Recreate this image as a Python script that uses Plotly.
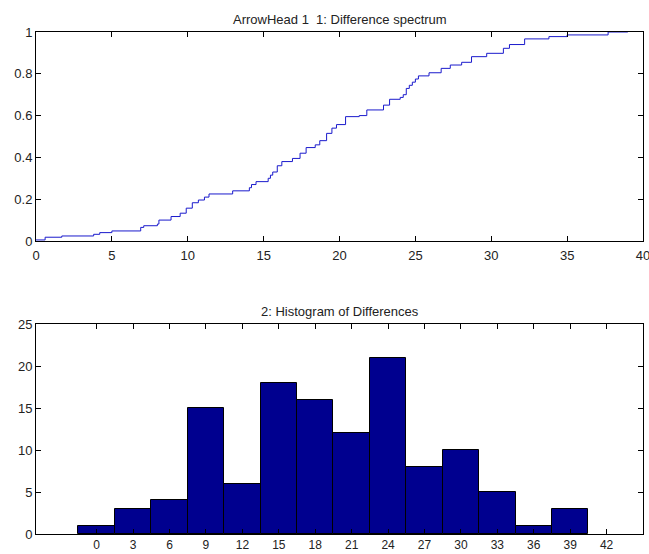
import plotly.graph_objects as go
from plotly.subplots import make_subplots

# Top panel: cumulative difference spectrum (step points)
cdf_x = [0, 0.6, 1.7, 3.8, 4.2, 5.0, 6.9, 7.1, 8.0, 8.1, 8.9, 9.5, 9.9, 10.3, 10.7,
         11.1, 11.4, 12.96, 14.06, 14.2, 14.5, 15.3, 15.45, 15.6, 15.9, 16.2, 16.9,
         17.4, 17.8, 18.4, 18.7, 19.15, 19.5, 19.8, 20.4, 21.3, 21.8, 22.9, 23.3,
         24.0, 24.2, 24.4, 24.6, 24.8, 25.0, 25.2, 25.9, 26.7, 27.3, 28.05, 28.7,
         29.7, 30.8, 31.2, 32.2, 33.8, 35.0, 37.7, 39.0]
cdf_y = [0.005, 0.018, 0.024, 0.032, 0.040, 0.048, 0.065, 0.073, 0.081, 0.100, 0.117,
         0.133, 0.157, 0.183, 0.196, 0.210, 0.225, 0.240, 0.255, 0.270, 0.284, 0.300,
         0.315, 0.330, 0.360, 0.380, 0.395, 0.420, 0.447, 0.460, 0.480, 0.515, 0.540,
         0.557, 0.595, 0.600, 0.627, 0.650, 0.678, 0.687, 0.700, 0.730, 0.745, 0.760,
         0.775, 0.790, 0.805, 0.826, 0.842, 0.855, 0.882, 0.898, 0.922, 0.940, 0.967,
         0.978, 0.986, 1.000, 1.000]

# Bottom panel: histogram of differences
bin_centers = [0, 3, 6, 9, 12, 15, 18, 21, 24, 27, 30, 33, 36, 39]
counts = [1, 3, 4, 15, 6, 18, 16, 12, 21, 8, 10, 5, 1, 3]

top_title = "ArrowHead 1  1: Difference spectrum"
bottom_title = "2: Histogram of Differences"

top_xticks = [0, 5, 10, 15, 20, 25, 30, 35, 40]
top_yticks = [0, 0.2, 0.4, 0.6, 0.8, 1]
top_ylabels = ["0", "0.2", "0.4", "0.6", "0.8", "1"]
bot_xticks = [0, 3, 6, 9, 12, 15, 18, 21, 24, 27, 30, 33, 36, 39, 42]
bot_yticks = [0, 5, 10, 15, 20, 25]

FONT = "Liberation Sans Narrow, Liberation Sans, Arial, sans-serif"
tick_font = dict(family=FONT, size=13, color="#222222")
small_font = dict(family=FONT, size=12, color="#222222")

fig = make_subplots(rows=2, cols=1)
fig.add_trace(go.Scatter(x=cdf_x, y=cdf_y, mode="lines", line=dict(color="#1a1acc", width=1, shape="hv"),
                         showlegend=False, hoverinfo="skip"), row=1, col=1)
fig.add_trace(go.Bar(x=bin_centers, y=counts, width=3, marker=dict(color="#00008F", line=dict(color="black", width=1)),
                     showlegend=False), row=2, col=1)

axis_common = dict(showline=True, linecolor="black", linewidth=1, mirror="ticks", ticks="inside",
                   ticklen=5, tickcolor="black", showgrid=False, zeroline=False, automargin=False,
                   ticklabeloverflow="allow")

fig.update_layout(
    width=649, height=554,
    margin=dict(l=36, r=6, t=32, b=20, autoexpand=False),
    paper_bgcolor="white", plot_bgcolor="white",
    bargap=0,
    xaxis=dict(domain=[0, 1], range=[0, 40], tickvals=top_xticks, ticklabelstandoff=2,
               tickfont=tick_font, **axis_common),
    yaxis=dict(domain=[0.5837, 1.0], range=[0, 1], tickvals=top_yticks, ticktext=top_ylabels,
               tickfont=tick_font, **axis_common),
    xaxis2=dict(domain=[0, 1], range=[-5, 45], tickvals=bot_xticks, ticklabelstandoff=0,
                tickfont=small_font, **axis_common),
    yaxis2=dict(domain=[0, 0.4183], range=[0, 25], tickvals=bot_yticks, tickfont=tick_font, **axis_common),
    annotations=[
        dict(text=top_title, xref="paper", yref="paper", x=0.5, y=1.0, yanchor="bottom", yshift=3,
             showarrow=False, font=dict(family=FONT, size=13, color="#222222")),
        dict(text=bottom_title, xref="paper", yref="paper", x=0.5, y=0.4183, yanchor="bottom", yshift=3,
             showarrow=False, font=dict(family=FONT, size=13, color="#222222")),
    ],
)

fig.write_html("out.html")
